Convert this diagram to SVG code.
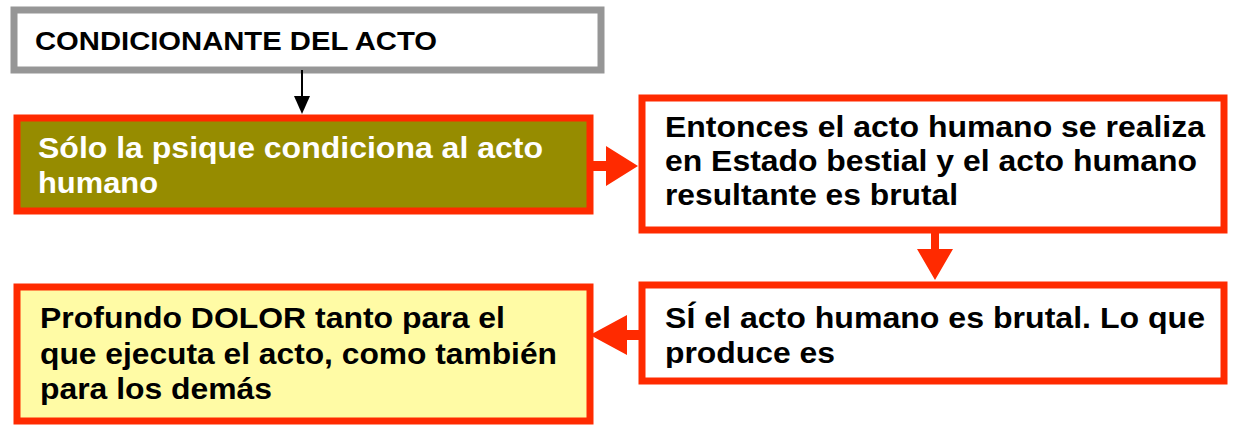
<svg xmlns="http://www.w3.org/2000/svg" width="1239" height="428" viewBox="0 0 1239 428">
<style>
.box{stroke:#FF2A00;stroke-width:7}
.t{font-family:"Liberation Sans",Arial,sans-serif;font-weight:bold;font-size:30px;fill:#000}
.h{font-size:25px}
.w{fill:#fff}
</style>
<defs>
<clipPath id="c4"><rect x="644" y="287" width="579" height="81"/></clipPath>
</defs>
<rect width="1239" height="428" fill="#fff"/>
<g id="n1">
<rect x="14" y="10" width="587" height="60" fill="#fff" stroke="#969696" stroke-width="7"/>
<text class="t h" x="35" y="50" textLength="402" lengthAdjust="spacingAndGlyphs">CONDICIONANTE DEL ACTO</text>
</g>
<g id="n2">
<rect class="box" x="17" y="118" width="573" height="93" fill="#968C00"/>
<text class="t w" x="38" y="158" textLength="505" lengthAdjust="spacingAndGlyphs">Sólo la psique condiciona al acto</text>
<text class="t w" x="38" y="193" textLength="120" lengthAdjust="spacingAndGlyphs">humano</text>
</g>
<g id="n3">
<rect class="box" x="642" y="98" width="582" height="132" fill="#fff"/>
<text class="t" x="665" y="137" textLength="540" lengthAdjust="spacingAndGlyphs">Entonces el acto humano se realiza</text>
<text class="t" x="665" y="171" textLength="532" lengthAdjust="spacingAndGlyphs">en Estado bestial y el acto humano</text>
<text class="t" x="665" y="205" textLength="293" lengthAdjust="spacingAndGlyphs">resultante es brutal</text>
</g>
<g id="n4">
<rect class="box" x="642" y="285" width="582" height="96" fill="#fff"/>
<g clip-path="url(#c4)">
<text class="t" x="665" y="328" textLength="540" lengthAdjust="spacingAndGlyphs">SÍ el acto humano es brutal. Lo que</text>
<text class="t" x="665" y="363" textLength="170" lengthAdjust="spacingAndGlyphs">produce es</text>
</g>
</g>
<g id="n5">
<rect class="box" x="17" y="287" width="573" height="134" fill="#FFFBA5"/>
<text class="t" x="40" y="328" textLength="465" lengthAdjust="spacingAndGlyphs">Profundo DOLOR tanto para el</text>
<text class="t" x="40" y="364" textLength="517" lengthAdjust="spacingAndGlyphs">que ejecuta el acto, como también</text>
<text class="t" x="40" y="399" textLength="232" lengthAdjust="spacingAndGlyphs">para los demás</text>
</g>
<g id="connectors">
<line x1="302" y1="70" x2="302" y2="98" stroke="#000" stroke-width="2"/>
<polygon points="294,96 310,96 302,114" fill="#000"/>
<polygon points="592,161 606,161 606,146 638,166 606,186 606,171 592,171" fill="#FF2A00"/>
<polygon points="931,232 939,232 939,249 953,249 935,280 917,249 931,249" fill="#FF2A00"/>
<polygon points="640,330 627,330 627,315 590,335 627,355 627,340 640,340" fill="#FF2A00"/>
</g>
</svg>
